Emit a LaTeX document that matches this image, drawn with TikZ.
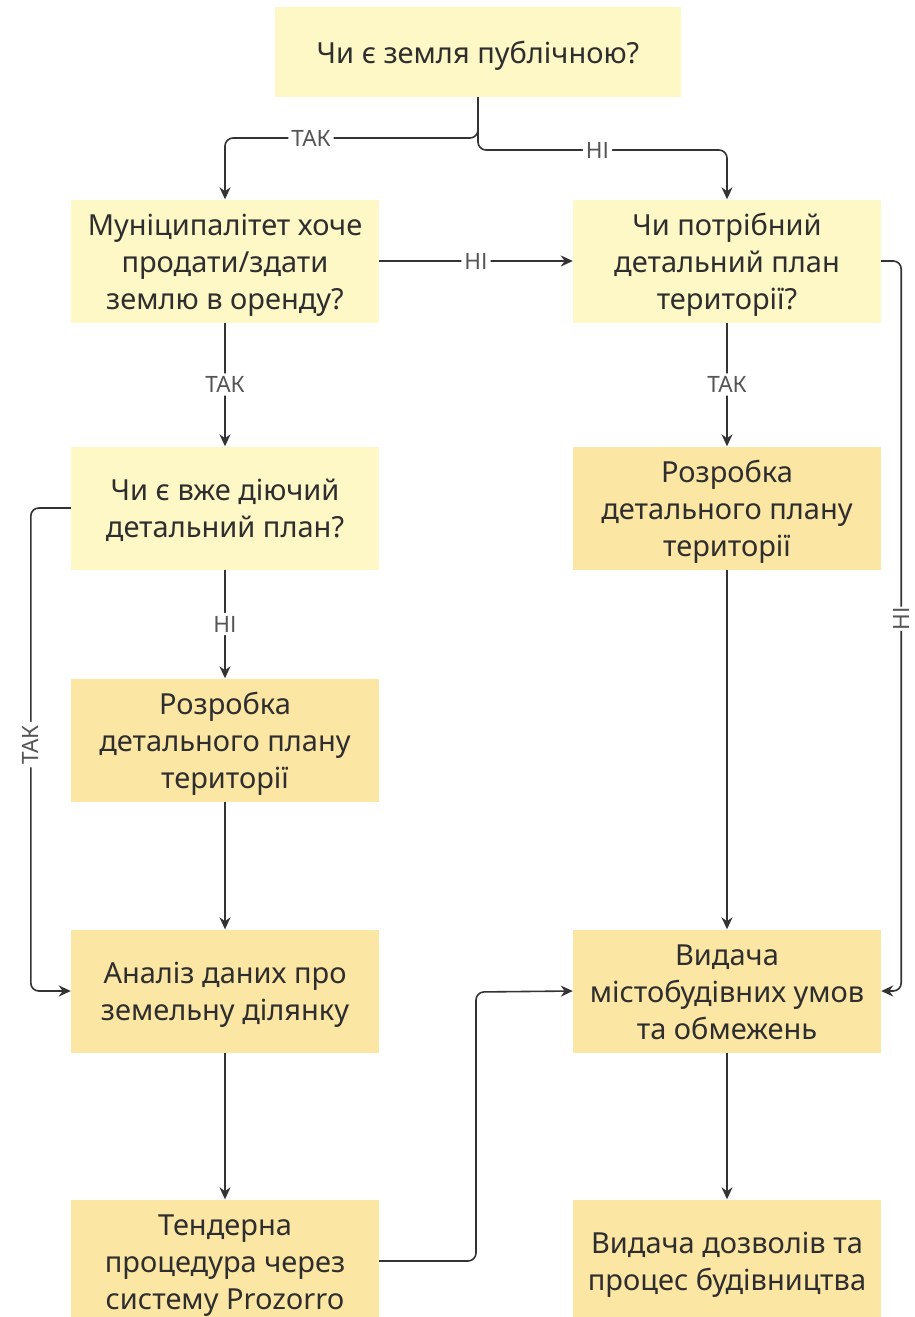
\documentclass[tikz,border=0pt]{standalone}
\usepackage{fontspec}
\setmainfont{Noto Sans}
\usetikzlibrary{arrows.meta}
\definecolor{boxA}{HTML}{FEF7C6}
\definecolor{boxB}{HTML}{FCE6A4}
\definecolor{ink}{HTML}{2E2E2E}
\definecolor{linec}{HTML}{333333}
\definecolor{lblc}{HTML}{555555}
\newcommand\ls{\rule[-7.4pt]{0pt}{37pt}}
\tikzset{
  base/.style={rectangle, minimum width=308pt, minimum height=123pt, align=center,
    text=ink, font=\fontsize{29}{37}\selectfont, inner sep=0pt},
  qbox/.style={base, fill=boxA},
  abox/.style={base, fill=boxB},
  conn/.style={draw=linec, line width=1.6pt, rounded corners=8pt},
  arr/.style={conn, -{Stealth[length=12pt,width=11pt]}},
  lbl/.style={fill=white, text=lblc, font=\fontsize{22.5}{24}\selectfont, inner sep=3pt},
}
\begin{document}
\begin{tikzpicture}[x=1pt,y=-1pt]
\useasboundingbox (0,0) rectangle (915,1317);
\fill[white] (0,0) rectangle (915,1317);
\node[qbox, minimum width=406pt, minimum height=90pt] (top) at (478,52) {\ls Чи є земля публічною?\ls};
\node[qbox] (L1) at (225,261) {\ls Муніципалітет хоче\\продати/здати\\землю в оренду?\ls};
\node[qbox] (R1) at (727,261) {\ls Чи потрібний\\детальний план\\території?\ls};
\node[qbox] (L2) at (225,508) {\ls Чи є вже діючий\\детальний план?\ls};
\node[abox] (R2) at (727,508) {\ls Розробка\\детального плану\\території\ls};
\node[abox] (L3) at (225,740) {\ls Розробка\\детального плану\\території\ls};
\node[abox] (L4) at (225,991) {\ls Аналіз даних про\\земельну ділянку\ls};
\node[abox] (R4) at (727,991) {\ls Видача\\містобудівних умов\\та обмежень\ls};
\node[abox] (L5) at (225,1261) {\ls Тендерна\\процедура через\\систему Prozorro\ls};
\node[abox] (R5) at (727,1261) {\ls Видача дозволів та\\процес будівництва\ls};

\coordinate (tl) at (225,138);
\coordinate (tr) at (727,150);
\coordinate (b1) at (476,1261);
\coordinate (b2) at (476,992);

\draw[arr] (top.south) |- node[lbl,pos=0.83]{ТАК} (tl) -- (L1.north);
\draw[arr] (top.south) |- node[lbl,pos=0.74]{НІ} (tr) -- (R1.north);
\draw[arr] (L1.east) -- node[lbl]{НІ} (R1.west);
\draw[arr] (L1.south) -- node[lbl]{ТАК} (L2.north);
\draw[arr] (R1.south) -- node[lbl]{ТАК} (R2.north);
\draw[arr] (R1.east) -- ++(20,0) |- node[lbl,pos=0.245,rotate=90,inner sep=0.5pt]{НІ} (R4.east);
\draw[arr] (L2.west) -- ++(-40,0) |- node[lbl,pos=0.245,rotate=90]{ТАК} (L4.west);
\draw[arr] (L2.south) -- node[lbl]{НІ} (L3.north);
\draw[arr] (L3.south) -- (L4.north);
\draw[arr] (R2.south) -- (R4.north);
\draw[arr] (L4.south) -- (L5.north);
\draw[arr] (R4.south) -- (R5.north);
\draw[arr] (L5.east) -- (b1) -- (b2) -- (R4.west);
\end{tikzpicture}
\end{document}
